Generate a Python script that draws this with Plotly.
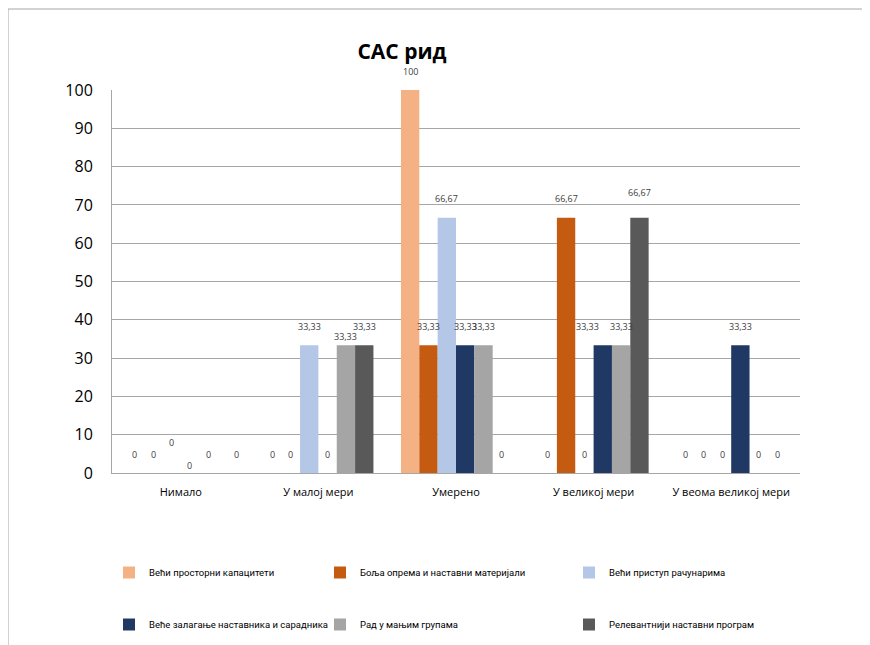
import plotly.graph_objects as go

categories = ["Нимало", "У малој мери", "Умерено", "У великој мери", "У веома великој мери"]
series_names = [
    "Већи просторни капацитети",
    "Боља опрема и наставни материјали",
    "Већи приступ рачунарима",
    "Веће залагање наставника и сарадника",
    "Рад у мањим групама",
    "Релевантнији наставни програм",
]
s1 = [0, 0, 100, 0, 0]
s2 = [0, 0, 33.33, 66.67, 0]
s3 = [0, 33.33, 66.67, 0, 0]
s4 = [0, 0, 33.33, 33.33, 33.33]
s5 = [0, 33.33, 33.33, 33.33, 0]
s6 = [0, 33.33, 0, 66.67, 0]
values = [s1, s2, s3, s4, s5, s6]
colors = ["#F4B183", "#C55A11", "#B4C7E7", "#203864", "#A5A5A5", "#595959"]
y_ticks = [0, 10, 20, 30, 40, 50, 60, 70, 80, 90, 100]

FONT = "Open Sans"
LEGFONT = "Roboto"
OFF = 8  # page body margin
W, H = 870 - OFF, 645 - OFF
ML, MR, MT, MB = 112 - OFF, 70, 90 - OFF, 172
PW = W - ML - MR
PH = H - MT - MB
BARGAP = 0.2
NS = len(values)
bw = (1 - BARGAP) / NS

# label nudges (pixel) mimicking the reference's label collision avoidance
nudge = {(0, 2): (0, 12), (0, 3): (0, -11), (0, 5): (10, 0), (1, 4): (0, -10),
         (3, 5): (0, 6), (3, 3): (-15, 0)}

def fmt(v):
    s = ("%.2f" % v).rstrip("0").rstrip(".")
    return s.replace(".", ",")

fig = go.Figure()
legend_of = ["legend", "legend2", "legend3", "legend", "legend2", "legend3"]
for j, (name, vals, c) in enumerate(zip(series_names, values, colors)):
    fig.add_trace(go.Bar(
        name=name, x=categories, y=vals, marker=dict(color=c, line=dict(width=0)),
        legend=legend_of[j], legendgroup=f"g{j}",
    ))

annotations = []
for j, vals in enumerate(values):
    for i, v in enumerate(vals):
        dx, dy = nudge.get((i, j), (0, 0))
        annotations.append(dict(
            x=i - (1 - BARGAP) / 2 + (j + 0.5) * bw, y=v, xref="x", yref="y",
            text=fmt(v), showarrow=False, yanchor="middle", xanchor="center",
            yshift=19 + dy, xshift=dx, font=dict(family=FONT, size=9, color="#404040"),
        ))

# reference-page pixel -> paper coords
def px2paper_x(px):
    return (px - OFF - ML) / PW

def py2paper_y(py):
    return (H - MB - (py - OFF)) / PH

shapes = [
    dict(type="line", xref="paper", yref="paper", x0=px2paper_x(8), x1=px2paper_x(872),
         y0=py2paper_y(9), y1=py2paper_y(9), line=dict(color="#A6A6A6", width=1)),
    dict(type="line", xref="paper", yref="paper", x0=px2paper_x(8), x1=px2paper_x(8),
         y0=py2paper_y(9), y1=py2paper_y(650), line=dict(color="#A6A6A6", width=1)),
]

leg_common = dict(orientation="v", font=dict(family=LEGFONT, size=9.5, color="#000000"),
                  bgcolor="rgba(0,0,0,0)", tracegroupgap=33, yanchor="top",
                  y=py2paper_y(558), xanchor="left", itemclick=False, itemdoubleclick=False)

fig.update_layout(
    width=W, height=H,
    margin=dict(l=ML, r=MR, t=MT, b=MB, autoexpand=False),
    paper_bgcolor="white", plot_bgcolor="white",
    barmode="group", bargap=BARGAP, bargroupgap=0,
    title=dict(text="<b>САС рид</b>", x=(402 - OFF) / W, xanchor="center", y=1 - (52 - OFF) / H,
               yanchor="middle", font=dict(family=FONT, size=21, color="#000000")),
    font=dict(family=FONT, color="#000000"),
    xaxis=dict(showgrid=False, showline=True, linecolor="#A6A6A6", linewidth=1,
               ticks="", tickfont=dict(family=FONT, size=11, color="#000000"),
               ticklabelstandoff=9),
    yaxis=dict(range=[0, 100], tickvals=y_ticks, showgrid=True, gridcolor="#A6A6A6",
               gridwidth=1, showline=True, linecolor="#A6A6A6", linewidth=1,
               ticks="", tickfont=dict(family=FONT, size=16, color="#000000"),
               ticklabelstandoff=15, zeroline=False),
    annotations=annotations,
    shapes=shapes,
    legend=dict(x=px2paper_x(109), **leg_common),
    legend2=dict(x=px2paper_x(320), **leg_common),
    legend3=dict(x=px2paper_x(569), **leg_common),
    showlegend=True,
)

fig.write_html("out.html")
